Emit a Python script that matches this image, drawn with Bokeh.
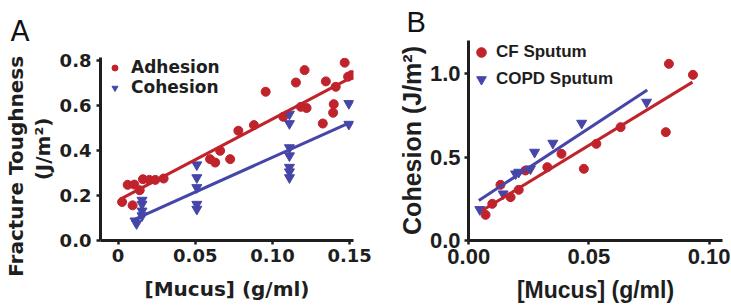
from bokeh.plotting import figure
from bokeh.models import Range1d, FixedTicker, NumeralTickFormatter, Legend, LegendItem
from bokeh.layouts import row, column
from bokeh.embed import file_html
from bokeh.resources import INLINE

RED = "#c0232b"
BLUE = "#4646a8"
INK = "#1e1e1e"

# ---- Panel A: fracture toughness against mucus concentration ----
adh_x = [0.0026, 0.0062, 0.0094, 0.0105, 0.014, 0.0161, 0.0202, 0.0241, 0.0295,
         0.0596, 0.0629, 0.0661, 0.0726, 0.0779, 0.088, 0.0956, 0.107, 0.1152,
         0.1208, 0.1184, 0.1221, 0.1326, 0.1346, 0.1393, 0.1397, 0.141, 0.1468,
         0.149, 0.1512]
adh_y = [0.171, 0.247, 0.156, 0.248, 0.223, 0.272, 0.269, 0.269, 0.275,
         0.361, 0.346, 0.398, 0.361, 0.487, 0.512, 0.66, 0.549, 0.701,
         0.756, 0.593, 0.588, 0.519, 0.706, 0.567, 0.605, 0.682, 0.789,
         0.727, 0.734]
coh_x = [0.011, 0.012, 0.0155, 0.0155, 0.0155, 0.0155,
         0.051, 0.051, 0.051, 0.051, 0.051,
         0.111, 0.111, 0.111, 0.111, 0.111, 0.111, 0.111,
         0.1495, 0.1495]
coh_y = [0.087, 0.075, 0.179, 0.161, 0.131, 0.11,
         0.336, 0.279, 0.235, 0.161, 0.139,
         0.561, 0.519, 0.412, 0.376, 0.325, 0.305, 0.279,
         0.608, 0.516]
# linear fits: intercept, slope and the x span of each line
adh_fit = [0.178, 3.61]
adh_span = [0.0015, 0.1512]
coh_fit = [0.061, 3.08]
coh_span = [0.0107, 0.1505]

# ---- Panel B: cohesion of CF and COPD sputum ----
cf_x = [0.007, 0.0098, 0.0132, 0.0174, 0.0208, 0.0236, 0.0327, 0.0386,
        0.0479, 0.0531, 0.0632, 0.082, 0.0833, 0.0933]
cf_y = [0.154, 0.22, 0.334, 0.26, 0.304, 0.42, 0.44, 0.52,
        0.43, 0.58, 0.68, 0.65, 1.06, 0.994]
copd_x = [0.0046, 0.0143, 0.0195, 0.0208, 0.0257, 0.0274, 0.035, 0.047, 0.074]
copd_y = [0.186, 0.28, 0.40, 0.41, 0.43, 0.53, 0.584, 0.704, 0.83]
cf_fit = [0.131, 8.8]
cf_span = [0.0056, 0.0931]
copd_fit = [0.2, 9.47]
copd_span = [0.0042, 0.0743]

a_xticks = [0, 0.05, 0.1, 0.15]
a_yticks = [0, 0.2, 0.4, 0.6, 0.8]
b_xticks = [0, 0.05, 0.1]
b_yticks = [0, 0.5, 1.0]


def fit_line(fit, span):
    return span, [fit[0] + fit[1] * x for x in span]


def style_axes(p, font, tick_px, label_px, xfmt, yfmt, xticks, yticks):
    for ax in (p.xaxis[0], p.yaxis[0]):
        ax.axis_line_width = 3
        ax.axis_line_color = INK
        ax.major_tick_line_width = 2.5
        ax.major_tick_line_color = INK
        ax.major_tick_in = 0
        ax.major_tick_out = 4
        ax.minor_tick_line_color = None
        ax.major_label_text_font = font
        ax.major_label_text_font_style = "bold"
        ax.major_label_text_font_size = tick_px
        ax.major_label_text_color = INK
        ax.axis_label_text_font = font
        ax.axis_label_text_font_style = "bold"
        ax.axis_label_text_font_size = label_px
        ax.axis_label_text_color = INK
    p.xaxis[0].ticker = FixedTicker(ticks=xticks)
    p.yaxis[0].ticker = FixedTicker(ticks=yticks)
    p.xaxis[0].formatter = NumeralTickFormatter(format=xfmt)
    p.yaxis[0].formatter = NumeralTickFormatter(format=yfmt)
    p.xgrid.visible = False
    p.ygrid.visible = False
    p.outline_line_color = None


def panel_letter(p, font, size, offset, standoff):
    t = p.title
    t.text_font = font
    t.text_font_size = size
    t.text_font_style = "normal"
    t.text_color = "#111111"
    t.align = "left"
    t.offset = offset
    t.standoff = standoff


# ---------- figure A ----------
pa = figure(width=376, height=305, output_backend="svg", toolbar_location=None,
            x_range=Range1d(-0.0114, 0.1525), y_range=Range1d(0, 0.812),
            min_border_left=100, min_border_right=23, min_border_top=57,
            min_border_bottom=65, title="A")
style_axes(pa, "DejaVu Sans", "18px", "20px", "0.00", "0.0", a_xticks, a_yticks)
pa.xaxis[0].major_label_overrides = {0: "0"}
pa.xaxis[0].axis_label = "[Mucus] (g/ml)"
# the first line is padded with no-break spaces so it sits lower along the axis
pa.yaxis[0].axis_label = "Fracture Toughness" + "\u00a0" * 5 + "\n(J/m²)"
pa.yaxis[0].axis_label_text_line_height = 1.1
pa.xaxis[0].major_label_standoff = 4
pa.yaxis[0].major_label_standoff = 5
pa.xaxis[0].axis_label_standoff = 12
pa.yaxis[0].axis_label_standoff = 2
panel_letter(pa, "DejaVu Sans", "28px", -90, 20)

r_adh = pa.scatter(adh_x, adh_y, marker="circle", size=9, color=RED)
r_coh = pa.scatter(coh_x, coh_y, marker="inverted_triangle", size=10, color=BLUE)
lx, ly = fit_line(adh_fit, adh_span)
pa.line(lx, ly, line_color=RED, line_width=3)
lx, ly = fit_line(coh_fit, coh_span)
pa.line(lx, ly, line_color=BLUE, line_width=3)

leg_a = Legend(items=[LegendItem(label="Adhesion", renderers=[r_adh]),
                      LegendItem(label="Cohesion", renderers=[r_coh])],
               location="top_left", margin=0, padding=0, spacing=0,
               glyph_width=29, glyph_height=15, label_height=15, label_standoff=2,
               background_fill_alpha=0, border_line_color=None,
               label_text_font="DejaVu Sans", label_text_font_style="bold",
               label_text_font_size="17px", label_text_color=INK)
pa.add_layout(leg_a)

# ---------- figure B ----------
pb = figure(width=355, height=305, output_backend="svg", toolbar_location=None,
            x_range=Range1d(-0.0001, 0.1056), y_range=Range1d(0, 1.2),
            min_border_left=92, min_border_right=9, min_border_top=40,
            min_border_bottom=65, title="B")
style_axes(pb, "Liberation Sans", "22px", "25px", "0.00", "0.0", b_xticks, b_yticks)
pb.xaxis[0].axis_label_text_font_size = "23px"
pb.xaxis[0].axis_label = "[Mucus] (g/ml)"
pb.yaxis[0].axis_label = "Cohesion (J/m²)"
pb.xaxis[0].major_label_standoff = 4
pb.yaxis[0].major_label_standoff = 4
pb.xaxis[0].axis_label_standoff = 10
pb.yaxis[0].axis_label_standoff = 1
panel_letter(pb, "Liberation Sans", "29px", -62, 5)

r_cf = pb.scatter(cf_x, cf_y, marker="circle", size=9, color=RED)
r_copd = pb.scatter(copd_x, copd_y, marker="inverted_triangle", size=10, color=BLUE)
lx, ly = fit_line(cf_fit, cf_span)
pb.line(lx, ly, line_color=RED, line_width=3)
lx, ly = fit_line(copd_fit, copd_span)
pb.line(lx, ly, line_color=BLUE, line_width=3)

leg_b = Legend(items=[LegendItem(label="CF Sputum", renderers=[r_cf]),
                      LegendItem(label="COPD Sputum", renderers=[r_copd])],
               location="top_left", margin=0, padding=0, spacing=3,
               glyph_width=26, glyph_height=24, label_height=24, label_standoff=2,
               background_fill_alpha=0, border_line_color=None,
               label_text_font="Liberation Sans", label_text_font_style="bold",
               label_text_font_size="17px", label_text_color=INK)
pb.add_layout(leg_b)

layout = row(column(pa), column(pb))
open("out.html", "w").write(file_html(layout, INLINE))
